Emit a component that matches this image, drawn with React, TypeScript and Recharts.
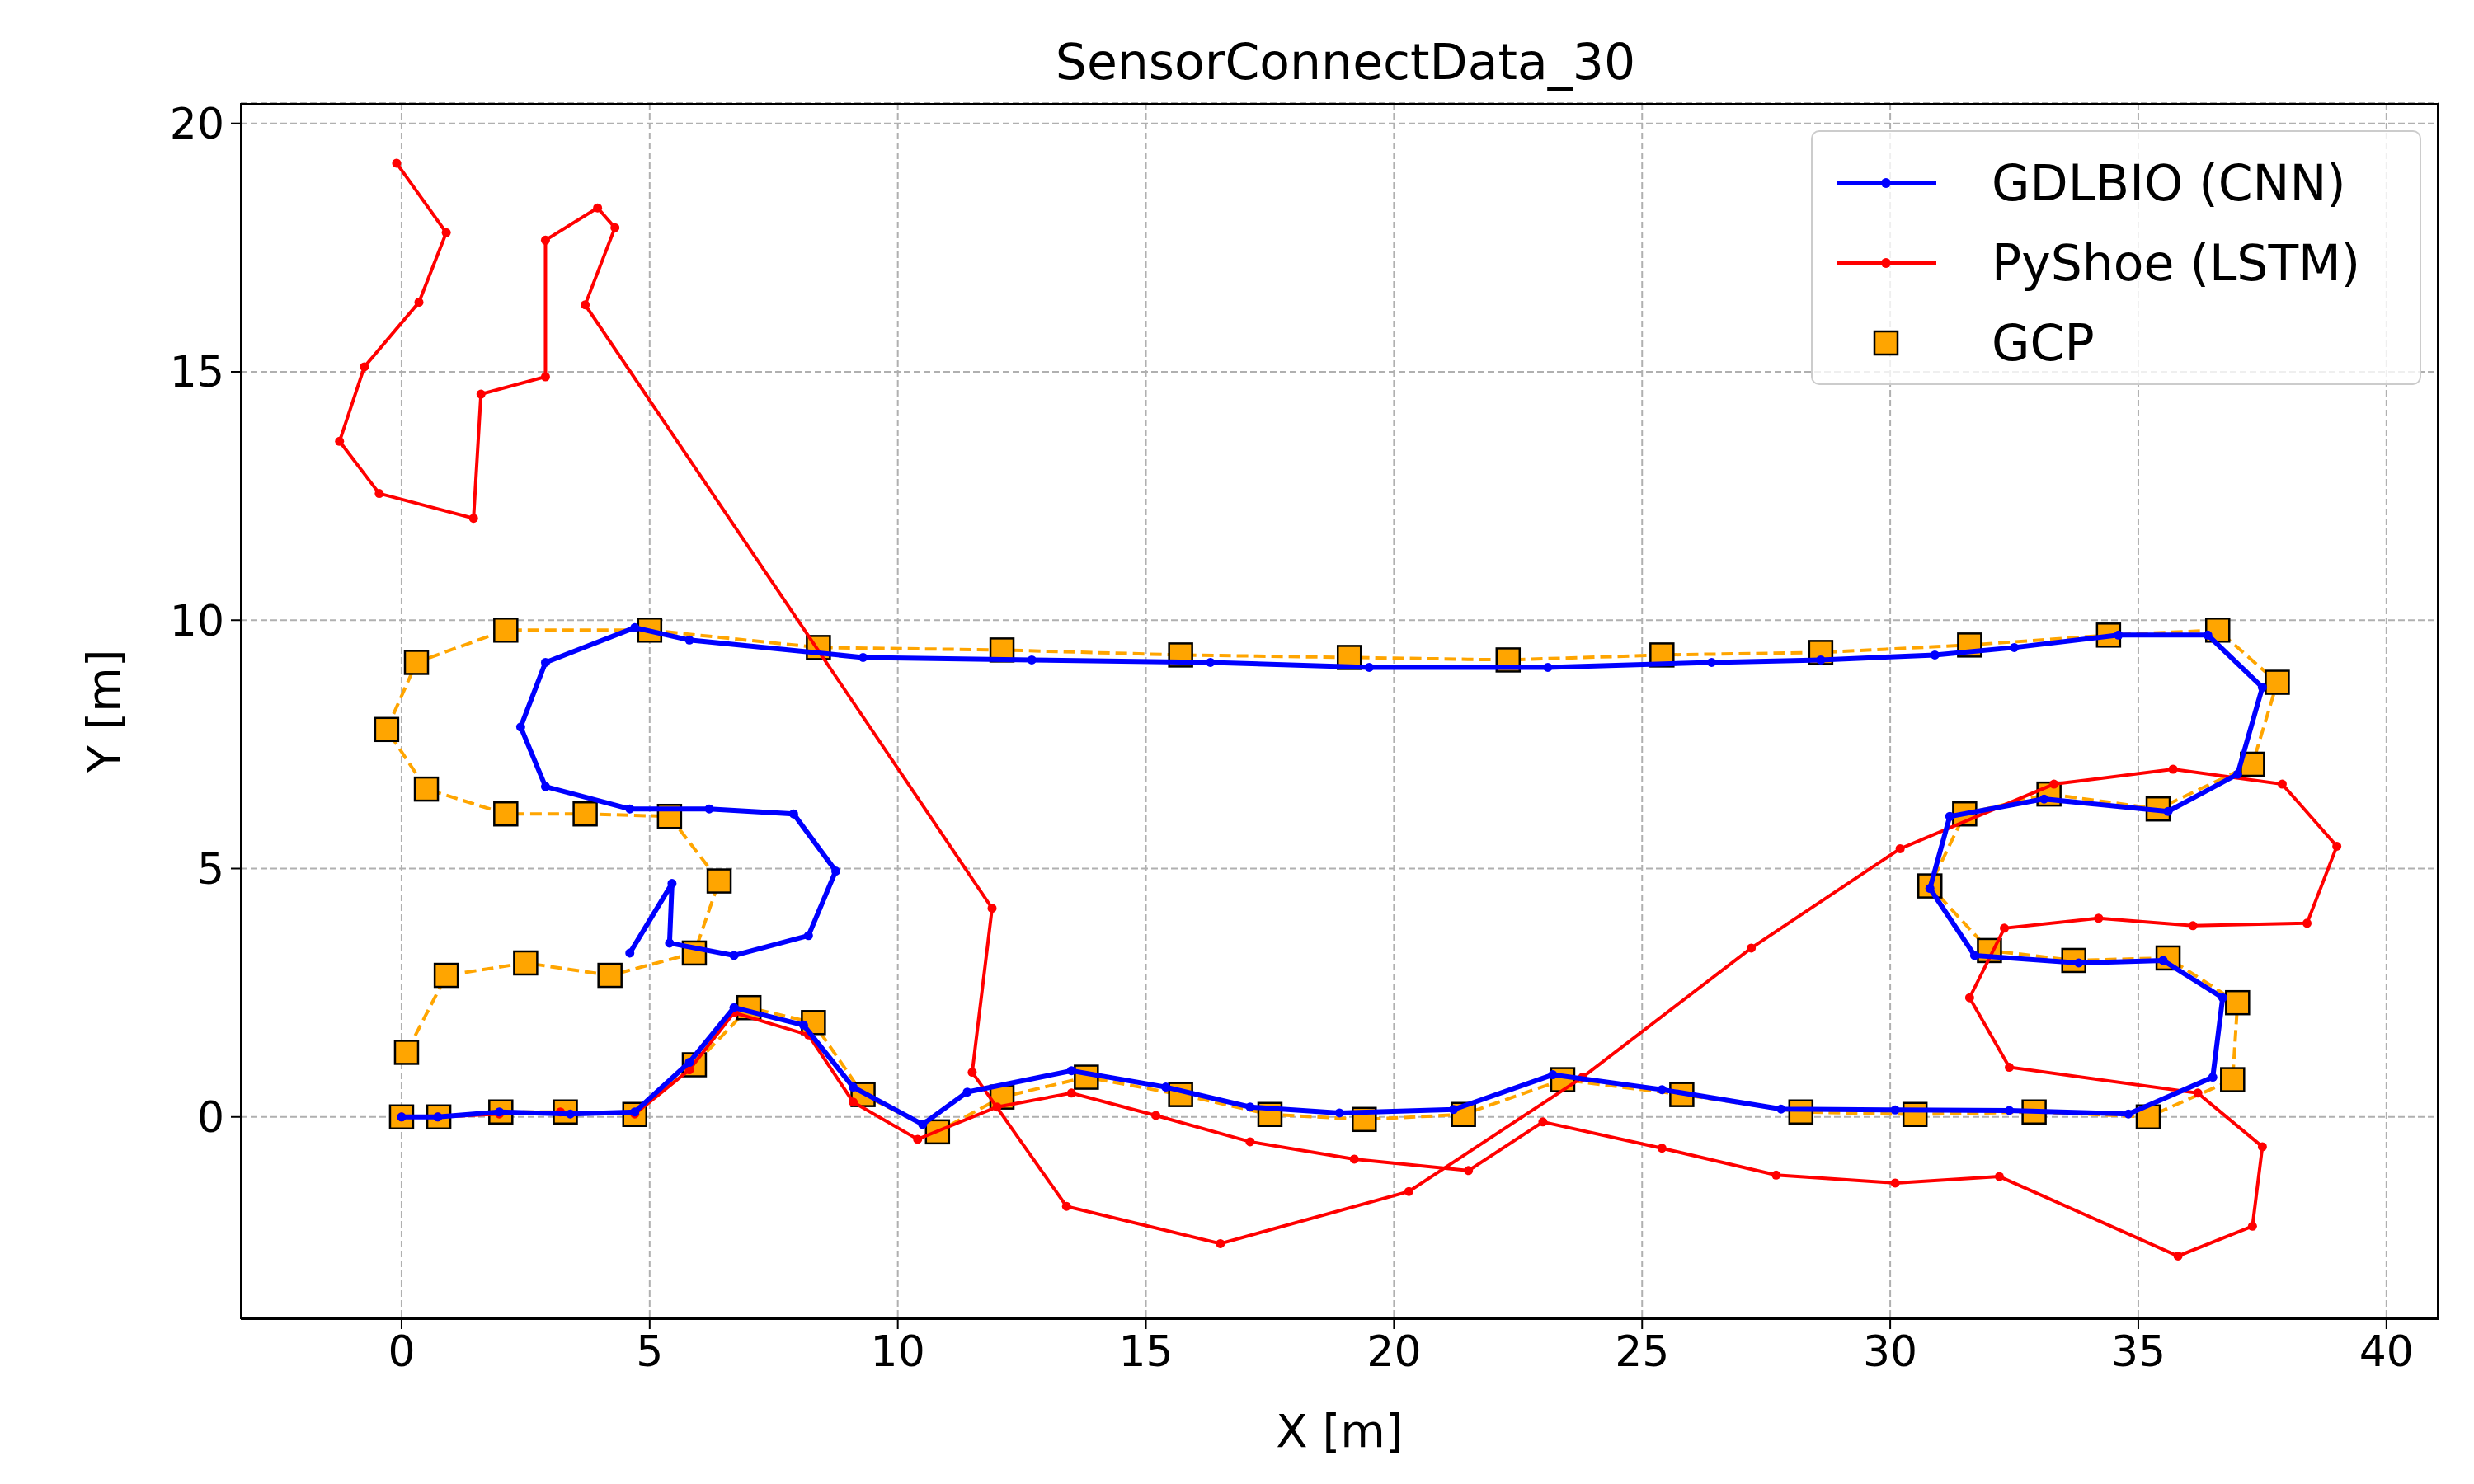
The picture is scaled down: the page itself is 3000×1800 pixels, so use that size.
import React from 'react';
import { ScatterChart, Scatter, XAxis, YAxis, CartesianGrid, Label } from 'recharts';

const gdlbioX = [0, 0.73, 1.97, 3.4, 4.7, 5.8, 6.7, 8.1, 9.1, 10.5, 11.4, 13.5, 15.4, 17.1, 18.9, 21.2, 23.2, 25.4, 27.8, 30.1, 32.4, 34.8, 36.5, 36.7, 35.5, 33.8, 31.7, 30.8, 31.2, 33.1, 35.6, 37.0, 37.5, 36.4, 34.6, 32.5, 30.9, 28.6, 26.4, 23.1, 19.5, 16.3, 12.7, 9.3, 5.8, 4.7, 2.9, 2.4, 2.9, 4.6, 6.2, 7.9, 8.75, 8.2, 6.7, 5.4, 5.45, 4.6];
const gdlbioY = [0, 0, 0.1, 0.06, 0.1, 1.1, 2.2, 1.85, 0.6, -0.15, 0.5, 0.93, 0.6, 0.2, 0.08, 0.15, 0.85, 0.55, 0.16, 0.14, 0.13, 0.06, 0.8, 2.4, 3.15, 3.1, 3.25, 4.6, 6.05, 6.4, 6.15, 6.9, 8.65, 9.7, 9.7, 9.45, 9.3, 9.2, 9.15, 9.05, 9.05, 9.15, 9.2, 9.25, 9.6, 9.85, 9.15, 7.85, 6.65, 6.2, 6.2, 6.1, 4.95, 3.65, 3.25, 3.5, 4.7, 3.3];

const pyshoeX = [0, 0.73, 1.97, 3.2, 4.7, 5.8, 6.7, 8.2, 9.1, 10.4, 12.0, 13.5, 15.2, 17.1, 19.2, 21.5, 23.0, 25.4, 27.7, 30.1, 32.2, 35.8, 37.3, 37.5, 36.2, 32.4, 31.6, 32.3, 34.2, 36.1, 38.4, 39.0, 37.9, 35.7, 33.3, 30.2, 27.2, 23.8, 20.3, 16.5, 13.4, 11.5, 11.9, 3.7, 4.3, 3.95, 2.9, 2.9, 1.6, 1.45, -0.45, -1.25, -0.75, 0.35, 0.9, -0.1];
const pyshoeY = [0, 0, 0.06, 0.1, 0.06, 0.95, 2.1, 1.65, 0.3, -0.45, 0.2, 0.48, 0.03, -0.5, -0.85, -1.08, -0.1, -0.63, -1.17, -1.33, -1.2, -2.8, -2.2, -0.6, 0.48, 1.0, 2.4, 3.8, 4.0, 3.85, 3.9, 5.45, 6.7, 7.0, 6.7, 5.4, 3.4, 0.8, -1.5, -2.55, -1.8, 0.9, 4.2, 16.35, 17.9, 18.3, 17.65, 14.9, 14.55, 12.05, 12.55, 13.6, 15.1, 16.4, 17.8, 19.2];

const gcpX = [0, 0.75, 2.0, 3.3, 4.7, 5.9, 7.0, 8.3, 9.3, 10.8, 12.1, 13.8, 15.7, 17.5, 19.4, 21.4, 23.4, 25.8, 28.2, 30.5, 32.9, 35.2, 36.9, 37.0, 35.6, 33.7, 32.0, 30.8, 31.5, 33.2, 35.4, 37.3, 37.8, 36.6, 34.4, 31.6, 28.6, 25.4, 22.3, 19.1, 15.7, 12.1, 8.4, 5.0, 2.1, 0.3, -0.3, 0.5, 2.1, 3.7, 5.4, 6.4, 5.9, 4.2, 2.5, 0.9, 0.1];
const gcpY = [0, 0, 0.1, 0.1, 0.05, 1.05, 2.2, 1.9, 0.45, -0.3, 0.4, 0.8, 0.45, 0.05, -0.05, 0.05, 0.75, 0.45, 0.1, 0.05, 0.1, 0, 0.75, 2.3, 3.2, 3.15, 3.35, 4.65, 6.1, 6.5, 6.2, 7.1, 8.75, 9.8, 9.7, 9.5, 9.35, 9.3, 9.2, 9.25, 9.3, 9.4, 9.45, 9.8, 9.8, 9.15, 7.8, 6.6, 6.1, 6.1, 6.05, 4.75, 3.3, 2.85, 3.1, 2.85, 1.3];

const xTicks = [0, 5, 10, 15, 20, 25, 30, 35, 40];
const yTicks = [0, 5, 10, 15, 20];

const zip = (xs: number[], ys: number[]) => xs.map((x, i) => ({ x, y: ys[i] }));
const gdlbio = zip(gdlbioX, gdlbioY);
const pyshoe = zip(pyshoeX, pyshoeY);
const gcp = zip(gcpX, gcpY);

const font = 'DejaVu Sans, sans-serif';
const tickStyle = { fontSize: 52, fill: '#000', fontFamily: font };

const dot = (color: string) => (p: any) => <circle cx={p.cx} cy={p.cy} r={5.5} fill={color} />;
const square = (p: any) => <rect x={p.cx - 14} y={p.cy - 14} width={28} height={28} fill="#FFA500" stroke="#000" strokeWidth={2.5} />;

export default function App() {
  return (
    <div style={{ position: 'relative', width: 3000, height: 1800, background: '#fff', fontFamily: font }}>
      <style>{'body{margin:0}'}</style>
      <div style={{ position: 'absolute', top: 40, left: 292, width: 2679, textAlign: 'center', fontSize: 60 }}>SensorConnectData_30</div>
      <ScatterChart width={3000} height={1800} margin={{ top: 125, right: 43, bottom: 0, left: 0 }}>
        <CartesianGrid xAxisId="b" yAxisId="l" stroke="#b0b0b0" strokeDasharray="8 4" strokeWidth={2} />
        <XAxis xAxisId="b" type="number" dataKey="x" domain={[-3.24, 41.05]} ticks={xTicks} allowDataOverflow
          height={200} tick={tickStyle} tickSize={12} stroke="#000" strokeWidth={2} tickMargin={8}>
          <Label value="X [m]" position="insideBottom" offset={45} style={{ fontSize: 56, fill: '#000', fontFamily: font }} />
        </XAxis>
        <YAxis yAxisId="l" type="number" dataKey="y" domain={[-4.07, 20.41]} ticks={yTicks} allowDataOverflow
          width={292} tick={tickStyle} tickSize={12} stroke="#000" strokeWidth={2} tickMargin={8}>
          <Label value="Y [m]" angle={-90} position="insideLeft" offset={125} style={{ fontSize: 56, fill: '#000', fontFamily: font, textAnchor: 'middle' }} />
        </YAxis>
        <Scatter xAxisId="b" yAxisId="l" data={gcp} line={{ stroke: '#FFA500', strokeWidth: 4, strokeDasharray: '14 7' }} shape={square} isAnimationActive={false} />
        <Scatter xAxisId="b" yAxisId="l" data={pyshoe} line={{ stroke: '#FF0000', strokeWidth: 4 }} shape={dot('#FF0000')} isAnimationActive={false} />
        <Scatter xAxisId="b" yAxisId="l" data={gdlbio} line={{ stroke: '#0000FF', strokeWidth: 6 }} shape={dot('#0000FF')} isAnimationActive={false} />
      </ScatterChart>
      <div style={{ position: 'absolute', left: 292, top: 125, width: 2665, height: 1475, boxSizing: 'border-box', border: '2px solid #000', pointerEvents: 'none' }} />
      <div style={{ position: 'absolute', left: 2196, top: 158, width: 740, height: 309, boxSizing: 'border-box', border: '2px solid #ccc', borderRadius: 10, background: 'rgba(255,255,255,0.8)', fontSize: 60 }}>
        {[
          { name: 'GDLBIO (CNN)', kind: 'blue' },
          { name: 'PyShoe (LSTM)', kind: 'red' },
          { name: 'GCP', kind: 'gcp' },
        ].map((e, i) => (
          <div key={e.name} style={{ position: 'absolute', left: 29, top: 22 + i * 97, height: 80, display: 'flex', alignItems: 'center' }}>
            <svg width={121} height={40} style={{ marginRight: 67 }}>
              {e.kind === 'gcp' ? (
                <rect x={46} y={6} width={28} height={28} fill="#FFA500" stroke="#000" strokeWidth={2.5} />
              ) : (
                <>
                  <line x1={0} y1={20} x2={121} y2={20} stroke={e.kind === 'blue' ? '#0000FF' : '#FF0000'} strokeWidth={e.kind === 'blue' ? 6 : 4} />
                  <circle cx={60} cy={20} r={6} fill={e.kind === 'blue' ? '#0000FF' : '#FF0000'} />
                </>
              )}
            </svg>
            <span>{e.name}</span>
          </div>
        ))}
      </div>
    </div>
  );
}
